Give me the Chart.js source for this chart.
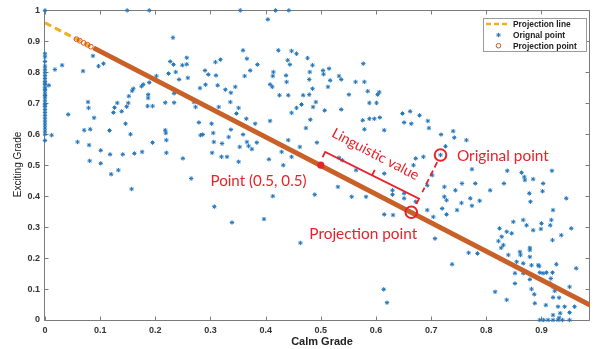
<!DOCTYPE html>
<html><head><meta charset="utf-8">
<script src="https://cdn.jsdelivr.net/npm/chart.js@4/dist/chart.umd.min.js"></script>
<style>html,body{margin:0;padding:0;background:#fff;}#wrap{width:595px;height:349px;}</style>
</head><body><div id="wrap"><canvas id="c" width="595" height="349"></canvas></div>
<script>
// ---------- data ----------
const xTickValues = [0, 0.1, 0.2, 0.3, 0.4, 0.5, 0.6, 0.7, 0.8, 0.9];
const xTickLabels = ["0", "0.1", "0.2", "0.3", "0.4", "0.5", "0.6", "0.7", "0.8", "0.9"];
const yTickValues = [0, 0.1, 0.2, 0.3, 0.4, 0.5, 0.6, 0.7, 0.8, 0.9, 1];
const yTickLabels = ["0", "0.1", "0.2", "0.3", "0.4", "0.5", "0.6", "0.7", "0.8", "0.9", "1"];
const xRange = [0, 0.988];
const yRange = [0, 1];

// original points lying on the x = 0 axis (y values)
const leftColumnY = [1.0, 0.86, 0.85, 0.835, 0.82, 0.81, 0.80, 0.79, 0.78, 0.77, 0.765, 0.76, 0.75, 0.745, 0.74,
  0.73, 0.725, 0.72, 0.71, 0.70, 0.695, 0.69, 0.68, 0.67, 0.66, 0.65, 0.64, 0.63, 0.62, 0.61, 0.60, 0.58];

// other original points [Calm, Exciting]
const originalPoints = [
  [0.007,0.758],[0.149,1.0],[0.189,1.0],[0.232,0.912],[0.087,0.853],[0.097,0.820],[0.106,0.828],[0.069,0.804],[0.018,0.809],[0.031,0.823],
  [0.012,0.597],[0.042,0.664],[0.078,0.704],[0.079,0.685],[0.089,0.653],[0.071,0.613],[0.082,0.616],[0.059,0.575],[0.080,0.565],[0.101,0.548],
  [0.081,0.514],[0.101,0.506],[0.118,0.535],[0.117,0.612],[0.124,0.670],[0.126,0.686],[0.131,0.701],[0.139,0.674],[0.146,0.634],[0.155,0.600],
  [0.141,0.535],[0.148,0.689],[0.151,0.701],[0.152,0.723],[0.158,0.740],[0.160,0.747],[0.162,0.538],[0.176,0.543],[0.175,0.755],[0.178,0.761],
  [0.187,0.728],[0.187,0.717],[0.186,0.691],[0.195,0.691],[0.195,0.573],[0.189,0.767],[0.202,0.788],[0.218,0.702],[0.218,0.613],[0.219,0.604],
  [0.220,0.581],[0.220,0.540],[0.224,0.796],[0.227,0.835],[0.233,0.825],[0.234,0.732],[0.234,0.702],[0.237,0.801],[0.243,0.777],[0.249,0.823],
  [0.257,0.847],[0.257,0.826],[0.259,0.782],[0.250,0.522],[0.270,0.704],[0.273,0.688],[0.279,0.638],[0.282,0.597],[0.286,0.599],[0.281,0.749],
  [0.290,0.806],[0.291,0.760],[0.296,0.793],[0.302,0.634],[0.305,0.604],[0.306,0.575],[0.303,0.540],[0.309,0.833],[0.310,0.790],[0.313,0.758],
  [0.318,0.841],[0.315,0.688],[0.321,0.570],[0.320,0.527],
  [0.120,0.471],[0.133,0.484],[0.157,0.423],[0.265,0.457],[0.307,0.366],
  [0.354,1.0],[0.418,1.0],[0.442,1.0],[0.404,0.971],[0.359,0.871],[0.366,0.844],[0.385,0.825],[0.372,0.806],[0.362,0.788],
  [0.423,0.871],[0.447,0.869],[0.456,0.860],[0.440,0.839],[0.444,0.825],[0.476,0.846],[0.485,0.823],[0.414,0.801],[0.413,0.788],[0.437,0.790],
  [0.438,0.769],[0.480,0.801],[0.479,0.777],[0.504,0.806],[0.505,0.794],[0.515,0.812],[0.517,0.774],[0.533,0.788],[0.537,0.777],[0.577,0.828],
  [0.563,0.769],[0.579,0.769],[0.327,0.744],[0.345,0.753],[0.408,0.761],[0.412,0.753],[0.425,0.726],[0.441,0.726],[0.468,0.726],
  [0.479,0.728],[0.485,0.747],[0.513,0.753],[0.337,0.734],[0.336,0.704],[0.351,0.685],[0.347,0.667],[0.465,0.696],[0.491,0.704],[0.486,0.688],
  [0.456,0.685],[0.447,0.669],[0.507,0.677],[0.537,0.680],[0.551,0.728],[0.585,0.739],[0.588,0.701],[0.601,0.701],[0.603,0.728],[0.606,0.736],
  [0.365,0.650],[0.408,0.643],[0.381,0.634],[0.481,0.647],[0.576,0.645],[0.588,0.650],[0.597,0.650],[0.607,0.654],[0.579,0.616],[0.615,0.613],
  [0.648,0.667],[0.651,0.638],[0.473,0.620],[0.337,0.615],[0.359,0.599],[0.384,0.573],[0.369,0.562],[0.333,0.591],[0.353,0.559],[0.366,0.575],
  [0.375,0.552],[0.441,0.581],[0.462,0.559],[0.429,0.543],[0.493,0.573],[0.533,0.524],[0.539,0.516],[0.406,0.519],[0.447,0.527],[0.330,0.527],
  [0.351,0.511],
  [0.432,0.500],[0.531,0.430],[0.556,0.398],[0.582,0.398],[0.564,0.484],[0.615,0.473],[0.630,0.419],[0.630,0.405],[0.651,0.409],[0.651,0.393],
  [0.615,0.341],[0.631,0.339],[0.413,0.400],[0.489,0.405],[0.339,0.315],[0.397,0.326],[0.463,0.249],[0.614,0.099],[0.620,0.056],
  [0.662,0.674],[0.679,0.661],[0.664,0.634],[0.694,0.643],[0.696,0.620],[0.718,0.599],[0.740,0.610],[0.742,0.589],[0.764,0.581],[0.726,0.561],
  [0.717,0.533],[0.686,0.527],[0.672,0.522],
  [0.774,0.487],[0.838,0.482],[0.864,0.476],[0.869,0.462],[0.885,0.455],[0.919,0.482],[0.702,0.468],[0.724,0.430],[0.724,0.398],[0.728,0.387],
  [0.720,0.360],[0.728,0.341],[0.744,0.419],[0.756,0.441],[0.780,0.441],[0.771,0.393],[0.774,0.369],[0.788,0.385],[0.755,0.378],[0.807,0.419],
  [0.832,0.441],[0.870,0.452],[0.903,0.441],[0.902,0.416],[0.878,0.409],[0.880,0.382],[0.945,0.393],[0.921,0.355],[0.918,0.323],[0.916,0.306],
  [0.900,0.312],[0.899,0.294],[0.873,0.306],[0.849,0.317],[0.824,0.296],[0.837,0.285],[0.846,0.280],[0.828,0.269],[0.831,0.242],[0.827,0.233],
  [0.822,0.255],[0.936,0.274],[0.954,0.296],[0.920,0.258],[0.885,0.290],[0.861,0.220],[0.862,0.210],[0.879,0.233],[0.879,0.204],[0.882,0.177],
  [0.867,0.183],[0.894,0.177],[0.897,0.153],[0.903,0.151],[0.909,0.153],[0.920,0.153],[0.917,0.134],[0.916,0.118],[0.921,0.107],[0.924,0.094],
  [0.927,0.180],[0.963,0.167],[0.852,0.151],[0.852,0.118],[0.882,0.100],[0.887,0.083],[0.816,0.091],[0.837,0.065],[0.888,0.054],[0.908,0.048],
  [0.932,0.072],[0.930,0.043],[0.934,0.022],[0.897,0],[0.904,0],[0.912,0],[0.921,0],[0.930,0],[0.938,0],[0.951,0],
  [0.921,0.016],[0.932,0.007],[0.738,0.180],[0.768,0.217],[0.784,0.215],[0.707,0.263],[0.693,0.355],[0.704,0.333],[0.672,0.382],[0.867,0.323],
  [0.951,0.107],[0.942,0.043],[0.951,0.024],[0.960,0.043],[0.921,0.073],[0.840,0.210],[0.879,0.226],[0.855,0.188],[0.896,0.174],[0.867,0.151],
  [0.879,0.131],[0.693,0.435],[0.747,0.355],[0.668,0.500]
];

const projectionLine = [[0, 0.960], [0.988, 0.048]];
const projectionBand = [[0.088, 0.879], [0.988, 0.048]];
const projectionSparse = [[0.057,0.907],[0.063,0.902],[0.070,0.895],[0.077,0.889],[0.083,0.883]];

// annotation anchors (data coordinates)
const redDot = [0.5, 0.5];
const origCircle = [0.717, 0.533];
const projCircle = [0.664, 0.348];
const bracket = [[0.508, 0.543], [0.678, 0.392]];
const dashSeg = [[0.711, 0.510], [0.684, 0.413]];
const redLabels = [
  { text: "Point (0.5, 0.5)", at: [0.387, 0.448], w: 96, rot: false },
  { text: "Projection point", at: [0.577, 0.277], w: 108, rot: false },
  { text: "Original point", at: [0.830, 0.529], w: 92, rot: false },
  { text: "Linguistic value", at: [0.599, 0.535], w: 96, rot: true }
];
const legendItems = ["Projection line", "Orignal point", "Projection point"];

// ---------- chart ----------
const RED = 'rgb(232,34,42)';
const BLUE = '#2476ba';
const YEL = '#EDB120';
const ORG = '#D95319';
const BAND = 'rgb(200,96,40)';
const AX = '#7b7b7b';
const tickFont = { family: "'Liberation Sans', Arial, sans-serif", size: 9, weight: 'bold' };

const toXY = arr => arr.map(([x, y]) => ({ x, y }));
const origData = leftColumnY.map(y => ({ x: 0, y })).concat(toXY(originalPoints));

function fitSize(ctx, text, w, family, weight) {
  ctx.font = weight + ' 20px ' + family;
  return 20 * w / ctx.measureText(text).width;
}

const decor = {
  id: 'decor',
  beforeDatasetsDraw(chart) {
    const { ctx, chartArea: a, scales: { x: xs, y: ys } } = chart;
    ctx.save();
    ctx.strokeStyle = AX; ctx.lineWidth = 1;
    const L = Math.round(a.left) - 0.5, R = Math.round(a.right) - 0.5, T = Math.round(a.top) + 0.5, B = Math.round(a.bottom) + 0.5;
    ctx.beginPath();
    ctx.moveTo(L, T); ctx.lineTo(R, T); ctx.lineTo(R, B); ctx.lineTo(L, B); ctx.closePath();
    xTickValues.forEach(v => {
      const p = Math.round(xs.getPixelForValue(v)) + 0.5;
      ctx.moveTo(p, B); ctx.lineTo(p, B - 4);
      ctx.moveTo(p, T); ctx.lineTo(p, T + 4);
    });
    yTickValues.forEach(v => {
      const p = Math.round(ys.getPixelForValue(v)) + 0.5;
      ctx.moveTo(L, p); ctx.lineTo(L + 4, p);
      ctx.moveTo(R, p); ctx.lineTo(R - 4, p);
    });
    ctx.stroke();
    ctx.restore();
  },
  afterDatasetsDraw(chart) {
    const { ctx, scales: { x: xs, y: ys } } = chart;
    const P = ([x, y]) => [xs.getPixelForValue(x), ys.getPixelForValue(y)];
    ctx.save();
    ctx.strokeStyle = RED; ctx.fillStyle = RED;
    let [dx, dy] = P(redDot);
    ctx.beginPath(); ctx.arc(dx, dy, 3.6, 0, Math.PI * 2); ctx.fill();
    ctx.lineWidth = 2;
    [origCircle, projCircle].forEach(c => {
      const [cx, cy] = P(c);
      ctx.beginPath(); ctx.arc(cx, cy, 5.8, 0, Math.PI * 2); ctx.stroke();
    });
    const [a1x, a1y] = P(dashSeg[0]), [a2x, a2y] = P(dashSeg[1]);
    ctx.setLineDash([6, 3.5]); ctx.lineWidth = 1.8;
    ctx.beginPath(); ctx.moveTo(a1x, a1y); ctx.lineTo(a2x, a2y); ctx.stroke();
    ctx.setLineDash([]);
    const [sx, sy] = P(bracket[0]), [ex, ey] = P(bracket[1]);
    const len = Math.hypot(ex - sx, ey - sy), ux = (ex - sx) / len, uy = (ey - sy) / len;
    const nx = -uy, ny = ux;
    ctx.lineWidth = 1.8;
    ctx.beginPath();
    ctx.moveTo(sx + nx * 6, sy + ny * 6); ctx.lineTo(sx, sy); ctx.lineTo(ex, ey); ctx.lineTo(ex + nx * 6, ey + ny * 6);
    const mx = (sx + ex) / 2, my = (sy + ey) / 2;
    ctx.moveTo(mx, my); ctx.lineTo(mx - nx * 6, my - ny * 6);
    ctx.stroke();
    const [l1x, l1y] = P(projectionLine[0]), [l2x, l2y] = P(projectionLine[1]);
    const ang = Math.atan2(l2y - l1y, l2x - l1x);
    const fam = "Lato, 'Open Sans', sans-serif";
    ctx.textAlign = 'center'; ctx.textBaseline = 'middle';
    redLabels.forEach(lb => {
      const size = fitSize(ctx, lb.text, lb.w, fam, 'normal');
      ctx.font = 'normal ' + size.toFixed(2) + 'px ' + fam;
      const [tx, ty] = P(lb.at);
      ctx.save(); ctx.translate(tx, ty);
      if (lb.rot) ctx.rotate(ang);
      ctx.fillText(lb.text, 0, 0);
      ctx.restore();
    });
    ctx.restore();

    // legend
    ctx.save();
    const bx = 483.5, by = 18.5, bw = 103, bh = 33;
    ctx.fillStyle = '#fff'; ctx.fillRect(bx, by, bw, bh);
    ctx.strokeStyle = '#9a9a9a'; ctx.lineWidth = 1; ctx.strokeRect(bx, by, bw, bh);
    const rows = [24, 35, 45.7];
    ctx.strokeStyle = YEL; ctx.lineWidth = 2.5; ctx.setLineDash([5, 3]);
    ctx.beginPath(); ctx.moveTo(486, rows[0]); ctx.lineTo(510, rows[0]); ctx.stroke();
    ctx.setLineDash([]);
    ctx.strokeStyle = BLUE; ctx.lineWidth = 1;
    const mxp = 498.5, r = 2.2;
    ctx.beginPath();
    ctx.moveTo(mxp - r, rows[1]); ctx.lineTo(mxp + r, rows[1]);
    ctx.moveTo(mxp, rows[1] - r); ctx.lineTo(mxp, rows[1] + r);
    ctx.moveTo(mxp - r * .7, rows[1] - r * .7); ctx.lineTo(mxp + r * .7, rows[1] + r * .7);
    ctx.moveTo(mxp - r * .7, rows[1] + r * .7); ctx.lineTo(mxp + r * .7, rows[1] - r * .7);
    ctx.stroke();
    ctx.strokeStyle = ORG; ctx.lineWidth = 1;
    ctx.beginPath(); ctx.arc(mxp, rows[2], 2.3, 0, Math.PI * 2); ctx.stroke();
    ctx.fillStyle = '#1e1e1e';
    ctx.font = "bold 8.4px 'Liberation Sans', Arial, sans-serif";
    ctx.textAlign = 'left'; ctx.textBaseline = 'middle';
    legendItems.forEach((t, i) => ctx.fillText(t, 513, rows[i] + 0.5));
    ctx.restore();
  },
  afterDraw(chart) {
    const { ctx } = chart;
    ctx.save();
    ctx.fillStyle = '#222';
    ctx.textAlign = 'center'; ctx.textBaseline = 'middle';
    ctx.font = "bold 11px 'Liberation Sans', Arial, sans-serif";
    ctx.fillText('Calm Grade', 322, 342);
    ctx.translate(18.5, 164.5); ctx.rotate(-Math.PI / 2);
    ctx.font = "normal 10px 'Liberation Sans', Arial, sans-serif";
    ctx.fillText('Exciting Grade', 0, 0);
    ctx.restore();
  }
};

new Chart(document.getElementById('c'), {
  type: 'scatter',
  data: {
    datasets: [
      { label: legendItems[0], data: toXY(projectionLine), showLine: true, borderColor: YEL, borderWidth: 3,
        borderDash: [7, 4], pointRadius: 0, order: 3 },
      { label: legendItems[1], data: origData, pointStyle: 'star', pointRadius: 2.2, borderColor: BLUE,
        backgroundColor: BLUE, borderWidth: 1, order: 4, clip: false },
      { label: legendItems[2], data: toXY(projectionBand), showLine: true, borderColor: BAND, borderWidth: 5,
        pointRadius: 0, order: 2 },
      { label: legendItems[2], data: toXY(projectionSparse), pointStyle: 'circle', pointRadius: 2.4,
        borderColor: ORG, backgroundColor: 'rgba(0,0,0,0)', borderWidth: 1, order: 1 }
    ]
  },
  options: {
    responsive: false, animation: false, devicePixelRatio: 1,
    layout: { padding: { top: 10, right: 1, left: 0, bottom: 0 } },
    plugins: { legend: { display: false }, tooltip: { enabled: false } },
    scales: {
      x: {
        type: 'linear', min: xRange[0], max: xRange[1],
        afterBuildTicks: s => { s.ticks = xTickValues.map(v => ({ value: v })); },
        afterFit: s => { s.height = 29; },
        grid: { display: false, drawTicks: false }, border: { display: false },
        ticks: { font: tickFont, color: '#333', padding: 5, maxRotation: 0, autoSkip: false,
          callback: (v, i) => xTickLabels[i] }
      },
      y: {
        type: 'linear', min: yRange[0], max: yRange[1],
        afterBuildTicks: s => { s.ticks = yTickValues.map(v => ({ value: v })); },
        afterFit: s => { s.width = 45; },
        grid: { display: false, drawTicks: false }, border: { display: false },
        ticks: { font: tickFont, color: '#333', padding: 5, autoSkip: false,
          callback: (v, i) => yTickLabels[i] }
      }
    }
  },
  plugins: [decor]
});
</script></body></html>
